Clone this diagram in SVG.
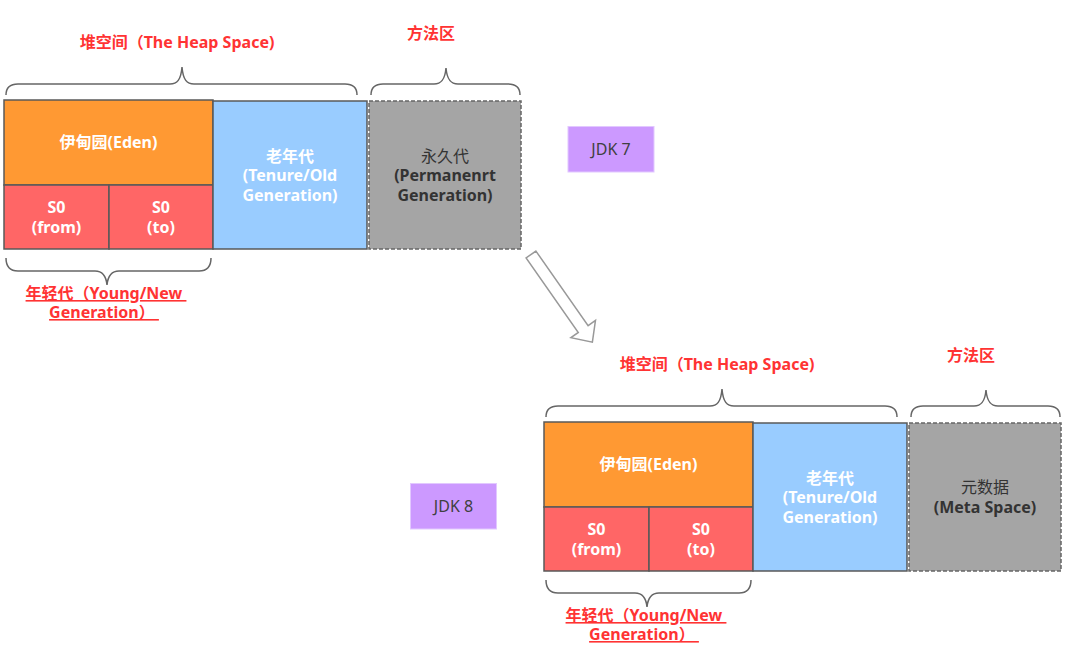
<svg xmlns="http://www.w3.org/2000/svg" width="1074" height="652" viewBox="0 0 1074 652">
<style>
text{font-family:"Noto Sans","Noto Sans CJK SC",sans-serif;font-size:16px;text-anchor:middle}
.b{font-weight:bold}
.w{fill:#ffffff;font-weight:bold}
.d{fill:#333333}
.r{fill:#ff3333;font-weight:bold}
.u{text-decoration:underline}
.box{stroke:#595959;stroke-width:1.5}
.eden{fill:#ff9933}
.surv{fill:#ff6666}
.old{fill:#99ccff}
.perm{fill:#a5a5a5;stroke:#666666;stroke-width:1.5;stroke-dasharray:4 2}
.jdk{fill:#cc99ff;stroke:#e2c8ff;stroke-width:1}
.jt{fill:#404040;font-size:16px}
.brace{fill:none;stroke:#666666;stroke-width:1.5}
</style>
<defs>
<path id="heapBrace" class="brace" d="M6,95 C6,88 9,84 18,84 L170,84 C177,84 181,80 182,67 C183,80 187,84 194,84 L345,84 C353,84 357,88 357,95"/>
<path id="methBrace" class="brace" d="M371,95 C371,88 374,84 383,84 L434,84 C441,84 445,80 446,68 C447,80 451,84 458,84 L508,84 C516,84 520,88 520,95"/>
<path id="youngBrace" class="brace" d="M6,258 C6,266 9,271 18,271 L95,271 C102,271 106,275 107,285 C108,275 112,271 119,271 L199,271 C207,271 211,266 211,258"/>
</defs>

<!-- JDK 7 diagram -->
<g id="jdk7">
  <g id="heap-label-7"><text x="177" y="48" class="r">堆空间（The Heap Space)</text><use href="#heapBrace"/></g>
  <g id="method-label-7"><text x="431" y="39" class="r">方法区</text><use href="#methBrace"/></g>
  <g id="eden-7"><rect class="box eden" x="4" y="100" width="209" height="85"/><text x="108.5" y="148" class="w">伊甸园(Eden)</text></g>
  <g id="s0from-7"><rect class="box surv" x="4" y="185" width="105" height="64"/><text x="56.5" y="213" class="w">S0</text><text x="56.5" y="233" class="w">(from)</text></g>
  <g id="s0to-7"><rect class="box surv" x="109" y="185" width="104" height="64"/><text x="161" y="213" class="w">S0</text><text x="161" y="233" class="w">(to)</text></g>
  <g id="old-7"><rect class="box old" x="213" y="101" width="154" height="148"/><text x="290" y="162" class="w">老年代</text><text x="290" y="181" class="w">(Tenure/Old</text><text x="290" y="201" class="w">Generation)</text></g>
  <g id="perm-7"><rect class="perm" x="369" y="101" width="152" height="148"/><text x="445" y="162" class="d">永久代</text><text x="445" y="181" class="d b">(Permanenrt</text><text x="445" y="201" class="d b">Generation)</text></g>
  <g id="young-label-7"><use href="#youngBrace"/><text x="106" y="299" class="r u" xml:space="preserve">年轻代（Young/New </text><text x="104" y="318" class="r u" xml:space="preserve">Generation） </text></g>
  <g id="jdk7-tag"><rect class="jdk" x="568" y="126.5" width="86" height="45.5"/><text x="611" y="155" class="jt">JDK 7</text></g>
</g>

<!-- connector -->
<g id="connectors">
  <polygon transform="translate(531,254.5) rotate(55)" points="0,-6 91,-6 91,-15 107,0 91,15 91,6 0,6" fill="#ffffff" stroke="#999999" stroke-width="1.5" stroke-linejoin="miter"/>
</g>

<!-- JDK 8 diagram -->
<g id="jdk8">
  <g id="heap-label-8"><text x="717" y="370" class="r">堆空间（The Heap Space)</text><use href="#heapBrace" transform="translate(540,322)"/></g>
  <g id="method-label-8"><text x="971" y="361" class="r">方法区</text><use href="#methBrace" transform="translate(540,322)"/></g>
  <g id="eden-8"><rect class="box eden" x="544" y="422" width="209" height="85"/><text x="648.5" y="470" class="w">伊甸园(Eden)</text></g>
  <g id="s0from-8"><rect class="box surv" x="544" y="507" width="105" height="64"/><text x="596.5" y="535" class="w">S0</text><text x="596.5" y="555" class="w">(from)</text></g>
  <g id="s0to-8"><rect class="box surv" x="649" y="507" width="104" height="64"/><text x="701" y="535" class="w">S0</text><text x="701" y="555" class="w">(to)</text></g>
  <g id="old-8"><rect class="box old" x="753" y="423" width="154" height="148"/><text x="830" y="484" class="w">老年代</text><text x="830" y="503" class="w">(Tenure/Old</text><text x="830" y="523" class="w">Generation)</text></g>
  <g id="meta-8"><rect class="perm" x="909" y="423" width="152" height="148"/><text x="985" y="493" class="d">元数据</text><text x="985" y="513" class="d b">(Meta Space)</text></g>
  <g id="young-label-8"><use href="#youngBrace" transform="translate(540,322)"/><text x="646" y="621" class="r u" xml:space="preserve">年轻代（Young/New </text><text x="644" y="640" class="r u" xml:space="preserve">Generation） </text></g>
  <g id="jdk8-tag"><rect class="jdk" x="410.5" y="483.5" width="86" height="45.5"/><text x="453.5" y="512" class="jt">JDK 8</text></g>
</g>
</svg>
